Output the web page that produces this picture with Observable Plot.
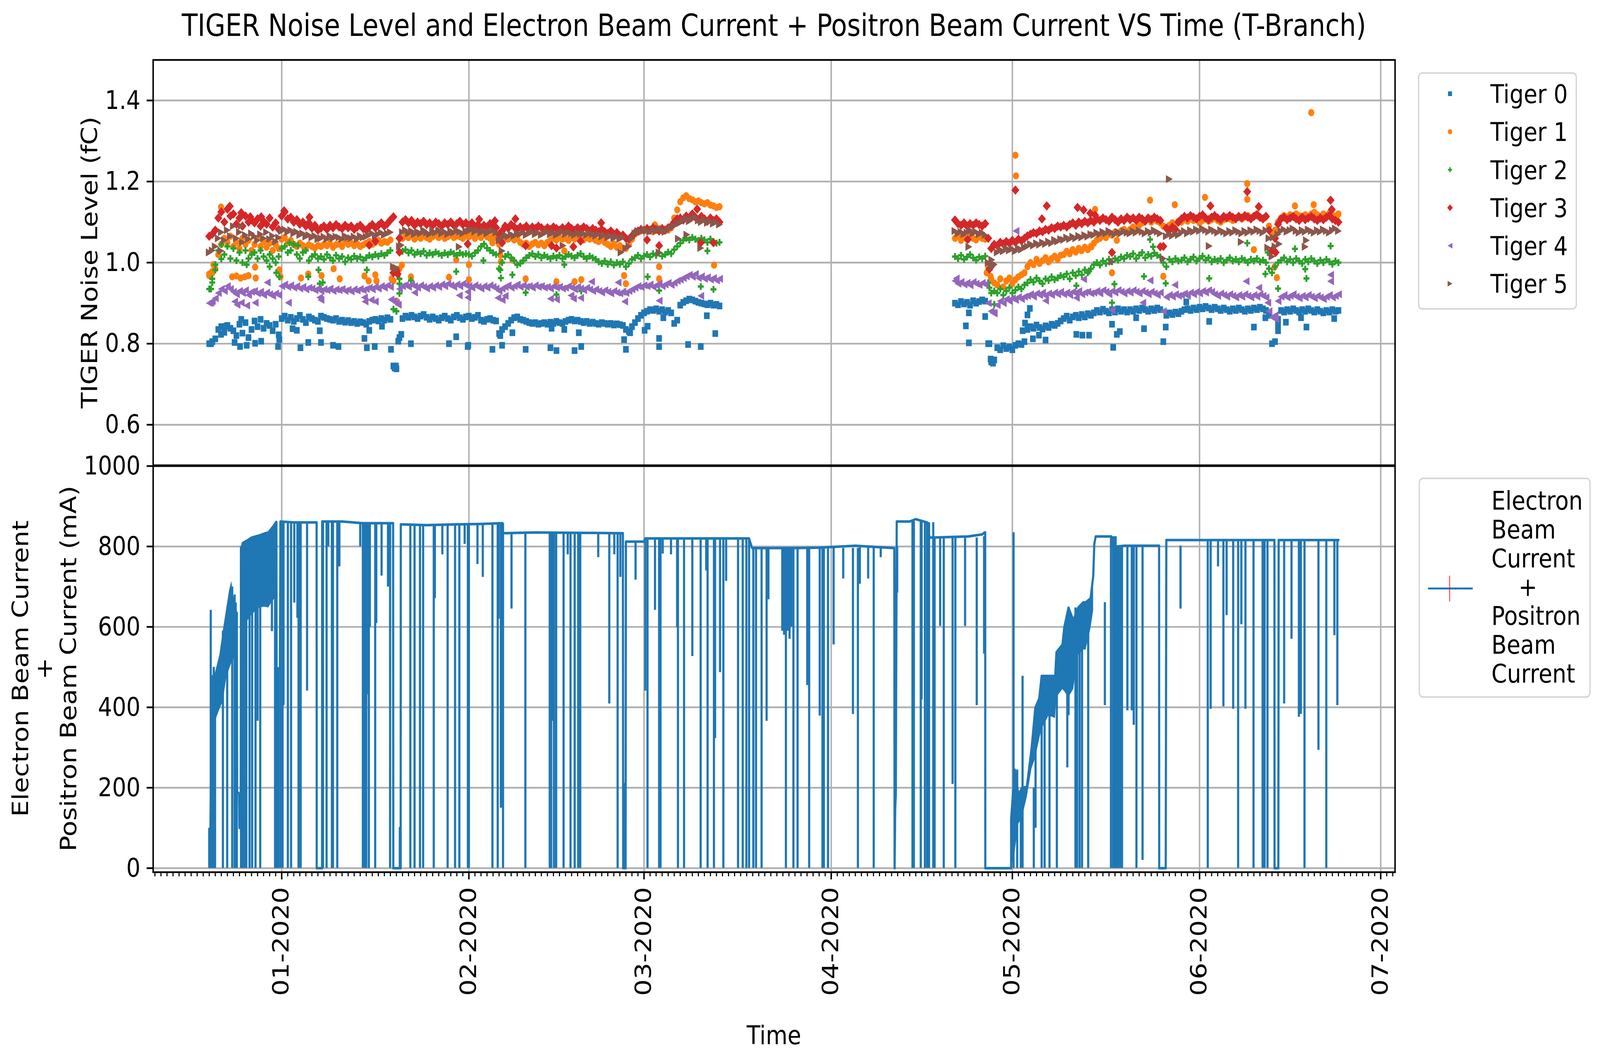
<!DOCTYPE html>
<html><head><meta charset="utf-8">
<script src="https://cdn.jsdelivr.net/npm/d3@7"></script>
<script src="https://cdn.jsdelivr.net/npm/@observablehq/plot@0.6"></script>
<style>
html,body{margin:0;padding:0;background:#fff;overflow:hidden;}
#outer{position:relative;overflow:hidden;width:4790px;height:2717px;background:#fff;}
#wrap{position:absolute;left:0;top:0;width:4790px;height:2717px;overflow:hidden;background:#fff;transform-origin:0 0;}
#wrap > svg{position:absolute;left:0;}
</style></head><body><div id="outer"><div id="wrap"></div></div>
<script>
// ---------- DATA (days since 2019-12-01) ----------
const titleText = "TIGER Noise Level and Electron Beam Current + Positron Beam Current VS Time (T-Branch)";
const seriesNames = ["Tiger 0","Tiger 1","Tiger 2","Tiger 3","Tiger 4","Tiger 5"];
const seriesColors = ["#1f77b4","#ff7f0e","#2ca02c","#d62728","#9467bd","#8c564b"];
const monthTickLabels = ["01-2020","02-2020","03-2020","04-2020","05-2020","06-2020","07-2020"];
const monthTickDays = [31,62,91,122,152,183,213];
const yTicksTop = [0.6,0.8,1.0,1.2,1.4];
const yTickLabelsTop = ["0.6","0.8","1.0","1.2","1.4"];
const yTicksBottom = [0,200,400,600,800,1000];
const yTickLabelsBottom = ["0","200","400","600","800","1000"];

const tLeft = [19,19.5,20,20.5,21,21.5,22,22.5,23,23.5,24,24.5,25,25.5,26,26.5,27,27.5,28,28.5,29,29.5,30,30.5,31,31.5,32,32.5,33,33.5,34,34.5,35,35.5,36,36.5,37,37.5,38,38.5,39,39.5,40,40.5,41,41.5,42,42.5,43,43.5,44,44.5,45,45.5,46,46.5,47,47.5,48,48.5,49,49.5,50,50.5,51,51.5,52,52.5,53,53.5,54,54.5,55,55.5,56,56.5,57,57.5,58,58.5,59,59.5,60,60.5,61,61.5,62,62.5,63,63.5,64,64.5,65,65.5,66,66.5,67,67.5,68,68.5,69,69.5,70,70.5,71,71.5,72,72.5,73,73.5,74,74.5,75,75.5,76,76.5,77,77.5,78,78.5,79,79.5,80,80.5,81,81.5,82,82.5,83,83.5,84,84.5,85,85.5,86,86.5,87,87.5,88,88.5,89,89.5,90,90.5,91,91.5,92,92.5,93,93.5,94,94.5,95,95.5,96,96.5,97,97.5,98,98.5,99,99.5,100,100.5,101,101.5,102,102.5,103,103.5];
const tRight = [142.5,143,143.5,144,144.5,145,145.5,146,146.5,147,147.5,148,148.5,149,149.5,150,150.5,151,151.5,152,152.5,153,153.5,154,154.5,155,155.5,156,156.5,157,157.5,158,158.5,159,159.5,160,160.5,161,161.5,162,162.5,163,163.5,164,164.5,165,165.5,166,166.5,167,167.5,168,168.5,169,169.5,170,170.5,171,171.5,172,172.5,173,173.5,174,174.5,175,175.5,176,176.5,177,177.5,178,178.5,179,179.5,180,180.5,181,181.5,182,182.5,183,183.5,184,184.5,185,185.5,186,186.5,187,187.5,188,188.5,189,189.5,190,190.5,191,191.5,192,192.5,193,193.5,194,194.5,195,195.5,196,196.5,197,197.5,198,198.5,199,199.5,200,200.5,201,201.5,202,202.5,203,203.5,204,204.5,205,205.5,206];

const tiger0Left = [0.800,0.805,0.812,0.835,0.842,0.828,0.845,0.838,0.832,0.820,0.848,0.826,0.852,0.815,0.835,0.856,0.842,0.860,0.838,0.850,0.845,0.832,0.848,0.822,0.862,0.868,0.858,0.865,0.855,0.862,0.870,0.860,0.852,0.866,0.862,0.858,0.855,0.868,0.865,0.862,0.860,0.858,0.862,0.855,0.858,0.853,0.857,0.852,0.855,0.850,0.854,0.852,0.848,0.855,0.858,0.860,0.856,0.862,0.858,0.864,0.860,0.745,0.738,0.815,0.862,0.868,0.865,0.870,0.866,0.862,0.868,0.872,0.865,0.860,0.866,0.862,0.858,0.864,0.868,0.862,0.858,0.866,0.870,0.864,0.860,0.866,0.868,0.862,0.865,0.870,0.858,0.855,0.860,0.862,0.858,0.856,0.825,0.835,0.842,0.850,0.858,0.864,0.866,0.860,0.858,0.855,0.852,0.850,0.852,0.848,0.850,0.852,0.848,0.853,0.850,0.855,0.852,0.850,0.855,0.858,0.860,0.856,0.858,0.855,0.852,0.855,0.850,0.853,0.850,0.848,0.852,0.850,0.848,0.850,0.846,0.849,0.847,0.845,0.835,0.830,0.842,0.852,0.862,0.870,0.876,0.880,0.884,0.882,0.886,0.880,0.884,0.878,0.882,0.876,0.850,0.858,0.895,0.902,0.906,0.910,0.908,0.905,0.902,0.900,0.898,0.896,0.900,0.895,0.897,0.893];
const tiger1Left = [0.968,0.975,0.985,1.020,1.045,1.060,1.050,1.065,1.040,1.050,1.035,1.060,1.045,1.055,1.030,1.045,1.060,1.040,1.052,1.038,1.048,1.030,1.045,1.035,1.058,1.062,1.050,1.055,1.045,1.040,1.048,1.042,1.038,1.044,1.040,1.036,1.042,1.040,1.045,1.042,1.048,1.038,1.044,1.046,1.040,1.050,1.045,1.048,1.042,1.046,1.040,1.044,1.048,1.052,1.045,1.050,1.055,1.048,1.052,1.050,1.056,0.955,0.905,0.985,1.060,1.065,1.062,1.068,1.058,1.064,1.060,1.066,1.062,1.058,1.064,1.068,1.062,1.066,1.060,1.064,1.068,1.062,1.066,1.064,1.060,1.066,1.064,1.068,1.060,1.066,1.062,1.070,1.064,1.060,1.066,1.062,1.045,1.055,1.060,1.058,1.062,1.056,1.060,1.050,1.045,1.048,1.040,1.046,1.050,1.044,1.048,1.042,1.050,1.055,1.060,1.056,1.062,1.058,1.060,1.055,1.062,1.058,1.064,1.060,1.056,1.062,1.058,1.060,1.055,1.052,1.056,1.050,1.045,1.040,1.046,1.038,1.042,1.036,1.035,1.045,1.058,1.070,1.075,1.078,1.080,1.078,1.082,1.076,1.080,1.084,1.078,1.082,1.080,1.086,1.110,1.130,1.150,1.160,1.165,1.158,1.155,1.150,1.152,1.148,1.145,1.148,1.142,1.140,1.136,1.138];
const tiger2Left = [0.935,0.960,0.995,1.030,1.045,1.020,1.040,1.010,1.035,1.005,1.025,1.000,1.030,1.010,1.020,1.025,1.010,1.030,1.015,1.005,1.020,1.010,1.000,1.015,1.035,1.040,1.025,1.030,1.045,1.020,1.010,1.025,1.030,1.005,1.015,1.020,1.010,1.015,1.008,1.020,1.012,1.005,1.018,1.010,1.015,1.002,1.012,1.008,1.016,1.010,1.014,1.006,1.012,1.018,1.014,1.020,1.016,1.022,1.018,1.024,1.030,0.885,0.880,0.960,1.028,1.032,1.024,1.030,1.020,1.026,1.022,1.028,1.018,1.024,1.020,1.026,1.022,1.018,1.024,1.020,1.026,1.022,1.018,1.024,1.020,1.022,1.020,1.016,1.024,1.030,1.040,1.046,1.036,1.030,1.024,1.020,0.985,1.000,1.015,1.020,1.012,1.005,0.995,0.998,1.005,1.012,1.018,1.022,1.015,1.020,1.012,1.018,1.014,1.010,1.016,1.012,1.018,1.010,1.015,1.020,1.016,1.012,1.018,1.022,1.015,1.010,1.016,1.012,1.008,1.002,0.998,1.004,0.996,1.002,0.994,1.000,0.996,1.002,0.990,0.998,1.008,1.012,1.018,1.010,1.016,1.020,1.014,1.022,1.018,1.024,1.016,1.020,1.026,1.022,1.032,1.040,1.048,1.055,1.060,1.056,1.062,1.058,1.054,1.060,1.056,1.050,1.058,1.052,1.048,1.050];
const tiger3Left = [1.065,1.070,1.080,1.110,1.125,1.100,1.132,1.115,1.120,1.095,1.110,1.090,1.115,1.100,1.105,1.098,1.108,1.090,1.102,1.095,1.110,1.088,1.098,1.082,1.115,1.125,1.108,1.112,1.100,1.106,1.095,1.100,1.090,1.098,1.085,1.092,1.080,1.085,1.090,1.082,1.092,1.086,1.094,1.088,1.084,1.092,1.086,1.090,1.082,1.088,1.092,1.084,1.080,1.088,1.094,1.086,1.092,1.098,1.090,1.096,1.105,0.975,0.980,1.060,1.100,1.106,1.098,1.104,1.092,1.100,1.096,1.102,1.094,1.098,1.092,1.100,1.096,1.090,1.098,1.094,1.100,1.092,1.096,1.102,1.094,1.098,1.092,1.098,1.088,1.094,1.086,1.092,1.088,1.096,1.090,1.086,1.070,1.078,1.090,1.085,1.094,1.088,1.082,1.088,1.084,1.090,1.082,1.088,1.084,1.090,1.086,1.080,1.086,1.082,1.088,1.084,1.080,1.086,1.082,1.090,1.084,1.080,1.086,1.082,1.088,1.084,1.078,1.084,1.080,1.076,1.082,1.076,1.072,1.078,1.070,1.074,1.066,1.068,1.060,1.058,1.066,1.074,1.078,1.082,1.080,1.084,1.080,1.086,1.082,1.078,1.084,1.080,1.086,1.090,1.100,1.108,1.110,1.105,1.115,1.108,1.120,1.112,1.106,1.114,1.108,1.102,1.110,1.104,1.108,1.100];
const tiger4Left = [0.900,0.905,0.912,0.925,0.935,0.930,0.942,0.935,0.928,0.922,0.930,0.925,0.932,0.920,0.928,0.930,0.924,0.928,0.920,0.926,0.922,0.918,0.924,0.920,0.942,0.946,0.940,0.944,0.938,0.942,0.936,0.940,0.934,0.938,0.936,0.932,0.935,0.930,0.934,0.932,0.936,0.930,0.934,0.932,0.935,0.930,0.933,0.929,0.934,0.931,0.935,0.932,0.935,0.938,0.934,0.940,0.936,0.942,0.938,0.944,0.940,0.905,0.900,0.935,0.942,0.945,0.940,0.946,0.942,0.938,0.944,0.940,0.936,0.942,0.938,0.944,0.940,0.946,0.942,0.948,0.944,0.940,0.946,0.942,0.948,0.944,0.942,0.938,0.944,0.940,0.936,0.942,0.938,0.944,0.940,0.936,0.930,0.936,0.940,0.944,0.938,0.942,0.946,0.940,0.944,0.940,0.942,0.938,0.944,0.940,0.942,0.938,0.940,0.936,0.942,0.938,0.940,0.936,0.938,0.942,0.938,0.934,0.940,0.936,0.932,0.938,0.934,0.930,0.934,0.930,0.926,0.932,0.928,0.924,0.930,0.926,0.924,0.928,0.925,0.930,0.934,0.938,0.942,0.940,0.944,0.942,0.946,0.940,0.944,0.948,0.942,0.946,0.950,0.945,0.950,0.955,0.958,0.962,0.966,0.970,0.965,0.972,0.962,0.966,0.960,0.964,0.958,0.962,0.956,0.960];
const tiger5Left = [1.025,1.030,1.040,1.060,1.075,1.055,1.080,1.065,1.090,1.060,1.075,1.050,1.068,1.058,1.072,1.065,1.055,1.070,1.060,1.075,1.058,1.066,1.052,1.062,1.078,1.082,1.075,1.080,1.072,1.076,1.068,1.072,1.064,1.068,1.062,1.066,1.058,1.060,1.064,1.058,1.066,1.060,1.064,1.062,1.058,1.066,1.062,1.060,1.064,1.058,1.066,1.062,1.064,1.068,1.072,1.066,1.070,1.074,1.068,1.072,1.075,0.990,0.985,1.040,1.075,1.080,1.072,1.078,1.070,1.076,1.072,1.080,1.074,1.070,1.078,1.074,1.080,1.072,1.076,1.070,1.078,1.074,1.080,1.076,1.072,1.078,1.078,1.082,1.076,1.080,1.074,1.078,1.072,1.076,1.080,1.074,1.055,1.062,1.068,1.064,1.070,1.066,1.072,1.070,1.074,1.068,1.072,1.076,1.070,1.074,1.068,1.072,1.076,1.070,1.074,1.068,1.072,1.076,1.070,1.074,1.072,1.068,1.074,1.070,1.072,1.068,1.074,1.070,1.066,1.070,1.064,1.068,1.062,1.066,1.060,1.064,1.058,1.062,1.035,1.040,1.060,1.072,1.078,1.076,1.082,1.080,1.076,1.082,1.078,1.084,1.080,1.076,1.082,1.086,1.090,1.096,1.098,1.104,1.110,1.102,1.108,1.112,1.104,1.100,1.106,1.098,1.102,1.096,1.100,1.094];

const tiger0Right = [0.900,0.896,0.904,0.898,0.902,0.895,0.906,0.900,0.904,0.908,0.905,0.800,0.755,0.760,0.790,0.785,0.795,0.788,0.792,0.785,0.796,0.800,0.798,0.805,0.835,0.842,0.838,0.846,0.840,0.836,0.844,0.840,0.848,0.845,0.850,0.856,0.862,0.868,0.858,0.866,0.870,0.864,0.872,0.866,0.874,0.870,0.876,0.882,0.878,0.885,0.880,0.876,0.884,0.878,0.886,0.880,0.884,0.878,0.884,0.880,0.886,0.882,0.888,0.884,0.880,0.886,0.882,0.888,0.884,0.805,0.870,0.876,0.872,0.878,0.874,0.880,0.884,0.886,0.882,0.888,0.884,0.890,0.886,0.892,0.888,0.884,0.890,0.886,0.882,0.888,0.884,0.880,0.886,0.882,0.888,0.884,0.880,0.886,0.882,0.888,0.884,0.890,0.886,0.882,0.870,0.800,0.805,0.860,0.882,0.878,0.884,0.880,0.886,0.882,0.878,0.884,0.880,0.886,0.882,0.878,0.884,0.880,0.876,0.882,0.878,0.884,0.880,0.882];
const tiger1Right = [1.060,1.065,1.055,1.062,1.058,1.066,1.060,1.056,1.064,1.060,1.058,0.990,0.960,0.950,0.945,0.960,0.940,0.955,0.962,0.948,0.958,0.965,0.970,0.975,0.990,1.000,0.995,1.008,0.998,1.005,1.012,1.002,1.010,1.016,1.008,1.018,1.020,1.028,1.022,1.032,1.026,1.035,1.030,1.038,1.032,1.040,1.048,1.056,1.060,1.066,1.062,1.070,1.068,1.075,1.072,1.078,1.082,1.076,1.082,1.088,1.084,1.092,1.098,1.104,1.110,1.100,1.106,1.102,1.098,1.090,1.086,1.092,1.098,1.095,1.102,1.100,1.106,1.102,1.108,1.104,1.110,1.098,1.104,1.108,1.102,1.106,1.110,1.104,1.100,1.106,1.112,1.108,1.104,1.110,1.114,1.108,1.112,1.116,1.110,1.114,1.120,1.112,1.108,1.114,1.090,1.070,1.080,1.100,1.110,1.116,1.112,1.118,1.114,1.120,1.116,1.112,1.118,1.114,1.120,1.124,1.118,1.114,1.120,1.116,1.122,1.118,1.114,1.120];
const tiger2Right = [1.015,1.010,1.018,1.008,1.014,1.020,1.012,1.006,1.014,1.010,1.016,0.950,0.925,0.930,0.925,0.935,0.920,0.930,0.938,0.925,0.932,0.940,0.935,0.945,0.950,0.958,0.952,0.962,0.955,0.948,0.960,0.956,0.965,0.958,0.962,0.968,0.965,0.972,0.960,0.975,0.968,0.978,0.970,0.982,0.975,0.985,0.995,1.000,0.994,1.004,0.998,1.008,1.002,1.010,1.006,1.014,1.010,1.018,1.015,1.022,1.010,1.018,1.025,1.012,1.020,1.016,1.024,1.018,1.014,1.000,0.990,1.008,1.002,1.010,1.004,1.006,1.012,1.002,1.008,1.014,1.004,1.010,1.016,1.006,1.012,1.002,1.008,1.004,1.010,1.000,1.006,1.012,1.004,1.008,1.002,1.010,1.006,1.000,1.008,1.004,1.010,1.002,1.006,1.000,0.985,0.975,0.990,1.000,1.006,1.012,1.002,1.008,1.000,1.010,1.004,0.998,1.008,1.002,1.010,1.004,0.998,1.006,1.000,1.008,1.002,0.996,1.004,1.000];
const tiger3Right = [1.105,1.096,1.092,1.098,1.090,1.096,1.092,1.098,1.094,1.090,1.096,1.060,1.035,1.045,1.042,1.050,1.046,1.052,1.048,1.055,1.050,1.058,1.054,1.060,1.066,1.070,1.074,1.072,1.078,1.076,1.082,1.080,1.086,1.084,1.090,1.088,1.092,1.088,1.094,1.098,1.092,1.100,1.096,1.102,1.098,1.104,1.100,1.108,1.104,1.110,1.106,1.102,1.112,1.106,1.100,1.108,1.104,1.112,1.106,1.110,1.104,1.112,1.108,1.102,1.110,1.106,1.112,1.108,1.104,1.040,1.085,1.080,1.088,1.082,1.100,1.108,1.114,1.110,1.116,1.112,1.108,1.114,1.118,1.110,1.106,1.112,1.116,1.110,1.106,1.114,1.110,1.116,1.112,1.108,1.114,1.110,1.116,1.112,1.108,1.114,1.118,1.112,1.108,1.114,1.080,1.030,1.060,1.095,1.108,1.112,1.106,1.110,1.114,1.108,1.104,1.112,1.106,1.110,1.114,1.108,1.104,1.110,1.106,1.112,1.116,1.108,1.104,1.100];
const tiger4Right = [0.955,0.948,0.952,0.946,0.950,0.944,0.952,0.948,0.945,0.950,0.946,0.900,0.880,0.875,0.895,0.905,0.900,0.910,0.905,0.912,0.908,0.915,0.910,0.916,0.918,0.922,0.916,0.924,0.920,0.926,0.918,0.924,0.920,0.926,0.922,0.928,0.922,0.926,0.920,0.928,0.924,0.930,0.922,0.926,0.928,0.924,0.926,0.930,0.924,0.932,0.928,0.922,0.930,0.926,0.932,0.928,0.924,0.930,0.926,0.932,0.928,0.924,0.930,0.926,0.922,0.928,0.924,0.920,0.926,0.880,0.915,0.920,0.916,0.922,0.918,0.920,0.924,0.918,0.926,0.922,0.928,0.924,0.930,0.926,0.932,0.928,0.922,0.918,0.924,0.920,0.916,0.922,0.918,0.914,0.920,0.916,0.922,0.918,0.914,0.920,0.916,0.922,0.918,0.914,0.880,0.865,0.870,0.905,0.916,0.920,0.914,0.918,0.922,0.916,0.912,0.918,0.914,0.920,0.916,0.912,0.918,0.914,0.910,0.916,0.920,0.914,0.918,0.922];
const tiger5Right = [1.078,1.072,1.076,1.070,1.074,1.080,1.072,1.076,1.070,1.074,1.068,1.000,0.988,0.995,1.025,1.032,1.028,1.036,1.030,1.034,1.028,1.036,1.032,1.038,1.040,1.046,1.042,1.048,1.044,1.050,1.046,1.052,1.048,1.056,1.052,1.058,1.056,1.062,1.058,1.064,1.060,1.066,1.062,1.068,1.064,1.070,1.068,1.074,1.070,1.076,1.072,1.078,1.074,1.070,1.076,1.072,1.078,1.074,1.072,1.078,1.074,1.080,1.076,1.072,1.078,1.074,1.080,1.076,1.072,1.010,1.065,1.070,1.066,1.072,1.068,1.074,1.078,1.072,1.080,1.076,1.082,1.078,1.084,1.080,1.076,1.082,1.078,1.074,1.080,1.076,1.072,1.078,1.074,1.080,1.076,1.072,1.078,1.074,1.080,1.076,1.082,1.078,1.074,1.080,1.060,1.015,1.040,1.070,1.078,1.082,1.076,1.080,1.084,1.078,1.074,1.080,1.076,1.082,1.078,1.074,1.080,1.076,1.082,1.078,1.074,1.080,1.084,1.078];

// scattered readings away from the main bands
const tiger0OutDay = [19.3,20.95,21.8,23.2,24.1,24.3,25.2,26.6,27.6,30.4,30.6,32.8,33.5,34.1,35.4,37.3,37.5,39.5,40.4,44.7,45.1,45.5,46.4,47.6,49.1,49.7,49.9,50.3,50.8,52.4,58.7,59.9,61.8,61.9,65.9,67.2,67.5,69.2,71.4,75.5,75.7,76.5,77.8,79.5,80.2,80.6,87.7,88.0,88.7,91.1,91.6,93.5,93.5,94.2,98.3,100.4,101.4,102.8,144.3,144.8,144.8,147.5,148.2,148.4,148.8,153.7,154.1,154.5,154.9,155.4,156.4,157.5,162.6,163.6,164.7,168.5,168.7,169.3,169.8,172.5,173.8,177.4,180.8,184.6,192.0,193.9,196.0,196.0,197.3,199.8,200.7,205.3];
const tiger0OutVal = [0.800,0.823,0.843,0.803,0.793,0.860,0.796,0.801,0.806,0.793,0.810,0.837,0.833,0.790,0.803,0.832,0.803,0.796,0.793,0.813,0.790,0.833,0.793,0.843,0.786,0.740,0.745,0.806,0.823,0.800,0.800,0.817,0.793,0.796,0.786,0.820,0.796,0.827,0.786,0.790,0.838,0.783,0.835,0.783,0.827,0.793,0.810,0.786,0.827,0.833,0.843,0.813,0.793,0.864,0.798,0.793,0.869,0.825,0.844,0.876,0.802,0.867,0.800,0.762,0.752,0.832,0.851,0.871,0.887,0.812,0.821,0.809,0.823,0.821,0.821,0.848,0.791,0.823,0.830,0.864,0.837,0.841,0.903,0.855,0.841,0.864,0.832,0.846,0.853,0.864,0.841,0.862];
const tiger1OutDay = [19.0,19.5,19.7,20.95,22.8,23.5,24.2,24.9,25.5,26.6,26.7,30.6,30.8,34.2,35.4,37.6,39.6,40.6,44.7,45.4,46.5,46.7,49.2,50.9,52.4,58.7,59.9,62.0,62.0,65.9,67.2,67.3,69.2,71.4,76.5,77.8,79.5,80.6,87.7,88.0,92.8,93.5,93.5,102.6,143.9,144.6,147.75,148.4,152.5,152.6,163.4,165.1,165.7,168.5,169.3,174.8,177.0,178.9,183.9,190.9,190.9,192.0,195.4,195.8,198.8,201.5,201.9];
const tiger1OutVal = [0.972,0.978,0.995,1.137,0.965,0.967,0.962,0.965,0.968,0.989,0.962,0.982,0.965,0.962,0.972,0.968,0.985,0.960,0.967,0.955,0.970,0.955,0.960,0.994,0.965,0.964,1.007,0.995,0.958,1.049,1.019,1.002,1.007,0.960,0.953,1.029,0.953,0.958,0.968,0.948,1.093,0.990,0.960,0.994,1.064,1.057,0.975,0.966,1.265,1.214,1.030,1.039,1.131,0.975,1.055,1.154,0.966,1.143,1.161,1.195,1.156,1.032,0.989,0.963,1.140,1.370,1.143];
const tiger2OutDay = [19.3,19.5,20.0,21.0,25.2,29.0,30.1,30.6,32.3,33.7,35.4,37.1,37.3,37.5,37.8,45.1,50.5,50.5,52.4,59.9,64.4,67.2,67.3,69.2,71.4,76.5,77.8,80.6,87.8,91.6,93.5,100.4,101.5,102.5,148.2,149.0,162.6,164.7,168.5,168.9,173.8,174.8,175.3,177.4,184.6,190.9,193.9,194.3,196.0,198.8,200.5,200.7,204.7];
const tiger2OutVal = [0.935,0.951,0.982,1.009,0.995,0.990,0.975,0.965,1.049,1.042,0.965,0.982,0.948,0.935,0.951,0.982,0.948,0.924,0.956,0.978,1.005,0.982,0.962,0.970,0.926,0.921,0.995,0.930,0.928,0.965,0.931,0.941,1.029,0.934,0.938,0.897,0.943,0.979,0.901,0.947,0.966,1.057,1.039,0.949,0.961,1.048,0.972,1.025,0.936,1.034,0.984,0.961,1.041];
const tiger3OutDay = [22.4,24.3,25.8,27.6,31.4,35.6,45.5,46.5,49.5,49.8,50.2,50.5,61.8,63.7,66.3,67.5,69.7,71.4,75.7,76.5,79.3,80.5,83.9,91.5,93.5,99.8,100.4,102.5,144.6,148.2,148.6,152.5,156.9,157.7,162.8,163.8,164.9,165.7,168.5,176.5,184.8,190.9,192.8,195.6,204.7,204.9];
const tiger3OutVal = [1.139,1.123,1.113,1.113,1.128,1.112,1.043,1.053,1.113,0.982,0.972,1.026,1.046,1.107,1.103,1.049,1.108,1.042,1.042,1.036,1.039,1.053,1.098,1.056,1.042,1.132,1.049,1.049,1.057,0.984,0.993,1.179,1.108,1.140,1.136,1.130,1.122,1.117,1.025,1.039,1.140,1.175,1.138,1.025,1.154,1.131];
const tiger4OutDay = [19.3,23.2,23.6,24.3,25.2,26.6,28.6,32.1,37.3,37.5,44.7,44.8,45.8,46.5,49.1,50.3,53.0,60.4,61.8,61.8,66.8,67.5,68.0,75.5,76.5,78.9,79.3,80.5,82.3,86.7,87.8,93.5,100.4,142.7,148.8,152.6,157.5,162.6,163.8,168.5,173.6,174.8,178.9,190.7,192.8,194.3,195.6,204.7,204.7];
const tiger4OutVal = [0.901,0.904,0.896,0.901,0.894,0.901,0.951,0.901,0.914,0.908,0.914,0.904,0.908,0.904,0.909,0.896,0.926,0.919,0.928,0.914,0.913,0.908,0.918,0.911,0.909,0.919,0.911,0.913,0.953,0.951,0.904,0.906,0.918,0.961,0.876,1.078,0.906,0.913,0.959,0.883,0.901,0.956,0.945,0.954,0.938,0.901,0.860,0.970,0.954];
const tiger5OutDay = [20.95,24.3,50.0,50.8,60.4,67.5,77.6,87.2,93.5,96.7,98.1,100.4,144.8,148.6,148.8,168.5,178.0,184.6,189.9,194.3,195.2,196.2,200.5,200.7];
const tiger5OutVal = [1.029,1.090,0.987,1.043,1.039,1.029,1.042,1.025,1.025,1.059,1.069,1.036,1.039,1.007,0.998,1.002,1.206,1.041,1.051,1.037,1.062,1.046,1.039,1.055];

// Beam current (mA): plateau path, dense-oscillation envelopes, and drops
const levelDay = [23.56,23.62,23.95,24.0,24.2,24.26,24.6,25.3,26.0,26.7,27.4,28.1,28.8,29.5,30.1,30.15,30.7,30.8,33.0,36.78,36.8,37.68,37.7,41.0,44.4,49.45,49.48,50.55,50.56,50.68,50.7,50.72,55.0,60.0,64.0,67.55,67.6,72.9,80.0,87.5,87.55,87.7,87.75,87.95,88.0,91.0,91.2,100.0,108.4,108.9,115.0,120.0,126.0,132.45,132.5,132.6,132.7,132.85,135.0,136.0,137.8,138.3,144.7,147.0,147.4,147.5,147.52,151.8,151.8,152.4,153.0,153.6,154.4,155.2,155.8,156.45,156.85,158.0,159.1,159.3,160.3,160.6,161.3,162.1,162.9,163.75,164.15,164.95,165.4,165.57,165.8,168.4,168.5,170.6,176.3,176.32,177.4,177.5,195.4,195.42,196.05,196.1,206.0];
const levelMA = [635,190,185,100,100,793,809,815,822,825,828,832,835,848,861,497,497,862,860,860,0,0,862,862,858,858,0,0,100,100,0,855,853,855,856,858,833,835,834,833,0,209,0,0,812,812,820,820,820,796,796,797,802,796,0,150,182,862,862,868,860,822,825,830,835,835,0,0,123,245,182,200,202,300,399,422,478,478,478,537,556,599,648,616,648,661,661,671,727,806,825,825,799,802,802,0,0,816,816,0,0,816,816];
const bandDay = [19.05,19.3,19.7,20.2,20.7,21.26,21.8,22.3,22.67,23.03,23.56,24.26,24.6,25.3,26.0,26.7,27.4,28.1,28.8,29.5,30.1,151.8,152.4,153.0,153.6,154.4,155.2,155.8,156.45,156.85,158.0,159.1,159.3,160.3,160.6,161.3,162.1,162.9,163.75,164.15,164.95,165.4];
const bandLow = [0,320,350,375,395,415,470,495,510,520,520,600,605,615,630,640,648,650,648,665,675,0,40,110,125,176,248,274,320,346,379,373,425,445,440,425,445,530,543,543,596,640];
const bandHigh = [100,480,470,500,530,590,642,690,714,675,635,793,809,815,822,825,828,832,835,848,861,123,245,182,200,202,300,399,422,478,478,478,537,556,599,648,616,648,661,661,671,727];
const bandPart = [1,1,1,1,1,1,1,1,1,1,1,2,2,2,2,2,2,2,2,2,2,3,3,3,3,3,3,3,3,3,3,3,3,3,3,3,3,3,3,3,3,3];
const dipDay = [19.0,19.25,19.5,19.75,19.96,21.26,21.97,22.8,23.2,23.38,23.56,24.26,24.54,24.79,25.14,25.67,26.1,26.66,27.0,27.44,29.38,29.9,30.12,30.43,30.79,31.14,31.3,32.02,32.55,33.08,33.6,33.79,34.14,35.2,37.84,38.43,38.72,39.31,39.49,40.2,40.55,44.0,44.44,44.72,45.0,45.25,45.43,45.6,46.48,46.66,47.54,48.6,48.95,52.3,53.0,53.9,54.42,56.18,56.36,57.6,58.48,59.71,60.42,61.3,61.83,62.0,63.42,64.3,65.9,66.77,66.94,67.3,67.65,69.06,71.35,75.39,75.62,75.85,76.08,76.45,77.68,78.37,78.83,79.52,80.1,80.44,83.42,85.25,86.08,86.63,87.08,89.6,91.21,91.58,92.82,93.5,93.73,94.1,95.47,96.48,96.62,97.63,99.0,100.38,101.3,101.53,102.58,102.77,103.59,104.14,104.6,106.57,107.35,107.95,108.4,109.1,109.55,110.47,111.3,111.6,113.9,114.2,114.5,114.8,115.1,115.4,115.74,116.43,118.03,118.35,120.1,120.55,120.78,121.47,122.4,123.99,125.6,126.42,126.74,128.12,129.04,130.2,132.93,135.46,135.69,136.83,136.97,137.52,137.88,138.2,138.9,139.12,140.04,140.64,142.1,142.56,144.17,146.1,147.32,152.2,152.8,153.4,153.69,155.55,155.84,156.85,157.34,158.15,159.37,161.1,161.31,162.45,162.73,163.14,163.54,164.56,167.32,168.33,168.7,168.9,169.1,169.3,169.5,169.83,170.16,171.05,171.78,172.1,172.55,173.56,179.85,184.36,184.84,186.06,186.95,187.48,188.57,189.39,189.92,190.6,191.94,193.44,193.77,194.25,197.01,198.23,199.45,199.77,200.38,202.69,203.99,205.33,205.82];
const dipLow = [0,0,0,0,0,0,0,0,0,0,0,0,0,0,0,0,0,0,366,0,589,0,0,0,0,0,405,0,0,660,622,0,0,441,0,0,800,0,0,0,750,800,0,0,0,432,0,600,0,609,727,700,0,0,0,0,0,0,671,780,0,0,0,806,0,0,756,724,0,0,620,150,0,645,0,0,0,366,0,0,0,780,0,0,0,0,773,409,780,0,724,717,441,0,642,0,0,782,780,599,0,0,527,0,740,0,0,323,487,0,714,0,0,0,0,0,0,0,366,668,590,580,0,590,570,600,0,0,455,0,379,0,0,0,556,720,383,0,707,720,0,773,685,0,0,0,419,0,0,0,0,0,602,0,209,0,602,405,533,0,0,0,0,0,100,0,0,0,0,250,380,0,0,0,0,0,405,0,0,0,0,0,0,0,0,392,392,356,0,20,645,0,396,750,402,629,396,0,606,396,0,0,0,0,409,570,376,383,0,294,0,579,405];
const dipHigh = [100,642,480,500,460,590,640,700,680,660,635,800,810,810,815,819,822,825,826,828,840,855,861,497,862,862,862,862,862,862,862,862,862,862,862,862,862,862,862,862,862,860,858,858,858,858,858,858,858,858,858,858,858,855,855,855,855,855,855,855,855,855,855,855,855,855,856,856,858,858,858,858,858,833,833,835,835,835,835,835,835,835,835,835,835,835,835,835,835,835,835,812,820,820,820,820,820,820,820,820,820,820,820,820,820,820,820,820,820,820,820,820,820,820,820,796,796,796,796,796,796,796,796,796,796,796,796,796,796,796,796,796,796,796,796,796,796,796,800,800,800,800,800,862,862,862,862,862,862,860,860,822,822,822,822,822,822,822,825,835,245,182,478,200,350,399,478,478,478,537,648,648,616,640,648,661,661,825,825,825,825,800,800,800,800,800,802,802,802,802,802,816,816,816,816,816,816,816,816,816,816,816,816,816,816,816,816,816,816,816,816,816,816,816];

// ---------- BUILD ----------
const base = Date.UTC(2019, 11, 1);
const toDate = d => new Date(base + d * 864e5);
const xDomain = [toDate(9.71), toDate(215.38)];
const monthTicks = monthTickDays.map(toDate);
const dayTicks = d3.utcDay.range(xDomain[0], xDomain[1]);
const monthLabel = d => { const i = monthTicks.findIndex(m => +m === +d); return i >= 0 ? monthTickLabels[i] : ""; };

const leftVals = [tiger0Left, tiger1Left, tiger2Left, tiger3Left, tiger4Left, tiger5Left];
const rightVals = [tiger0Right, tiger1Right, tiger2Right, tiger3Right, tiger4Right, tiger5Right];
const outDays = [tiger0OutDay, tiger1OutDay, tiger2OutDay, tiger3OutDay, tiger4OutDay, tiger5OutDay];
const outVals = [tiger0OutVal, tiger1OutVal, tiger2OutVal, tiger3OutVal, tiger4OutVal, tiger5OutVal];
function seriesRows(k) {
  const rows = [];
  tLeft.forEach((t, i) => { if (leftVals[k][i] != null) rows.push({date: toDate(t), v: leftVals[k][i]}); });
  tRight.forEach((t, i) => { if (rightVals[k][i] != null) rows.push({date: toDate(t), v: rightVals[k][i]}); });
  outDays[k].forEach((t, i) => { if (outVals[k][i] != null) rows.push({date: toDate(t), v: outVals[k][i]}); });
  return rows;
}

// matplotlib-like markers: s, o, P, D, <, >
const R = s => Math.sqrt(s / Math.PI);
const symSquare = {draw(c, size){ const s = R(size); c.rect(-s, -s, 2*s, 2*s); }};
const symCircle = {draw(c, size){ const s = R(size)*1.08; c.moveTo(s, 0); c.arc(0, 0, s, 0, 2*Math.PI); }};
const symPlus = {draw(c, size){ const s = R(size)*1.04, w = s/3;
  c.moveTo(-w,-s); c.lineTo(w,-s); c.lineTo(w,-w); c.lineTo(s,-w); c.lineTo(s,w); c.lineTo(w,w);
  c.lineTo(w,s); c.lineTo(-w,s); c.lineTo(-w,w); c.lineTo(-s,w); c.lineTo(-s,-w); c.lineTo(-w,-w); c.closePath(); }};
const symDiamond = {draw(c, size){ const a = R(size)*1.41; c.moveTo(0,-a); c.lineTo(a,0); c.lineTo(0,a); c.lineTo(-a,0); c.closePath(); }};
const symLeft = {draw(c, size){ const s = R(size)*1.2; c.moveTo(-s,0); c.lineTo(s,-s); c.lineTo(s,s); c.closePath(); }};
const symRight = {draw(c, size){ const s = R(size)*1.2; c.moveTo(s,0); c.lineTo(-s,-s); c.lineTo(-s,s); c.closePath(); }};
const symbols = [symSquare, symCircle, symPlus, symDiamond, symLeft, symRight];

const FONT = "DejaVu Sans";
const gridOpt = {stroke: "#b0b0b0", strokeOpacity: 1, strokeWidth: 4.4};
const plotStyle = {fontFamily: FONT, fontSize: "66.7px", background: "none", overflow: "visible", maxWidth: "none", color: "black"};

const topPlot = Plot.plot({
  width: 4790, height: 1191,
  marginLeft: 458, marginRight: 614, marginTop: 153, marginBottom: 0,
  style: plotStyle,
  x: {type: "utc", domain: xDomain, axis: null},
  y: {domain: [0.5, 1.5], axis: null},
  marks: [
    Plot.gridX(monthTicks, gridOpt),
    Plot.gridY(yTicksTop, gridOpt),
    ...seriesNames.map((name, k) => Plot.dot(seriesRows(k), {x: "date", y: "v", symbol: symbols[k], r: 8.5, fill: seriesColors[k]})),
    Plot.frame({stroke: "black", strokeWidth: 4.4}),
    Plot.axisY(yTicksTop, {tickSize: 19, tickPadding: 19, strokeWidth: 4.4, label: null,
      tickFormat: d => yTickLabelsTop[yTicksTop.indexOf(d)]})
  ]
});

const bandRows = bandDay.map((d, i) => ({date: toDate(d), low: bandLow[i], high: bandHigh[i], part: bandPart[i]}));
const dipRows = dipDay.map((d, i) => ({date: toDate(d), low: dipLow[i], high: dipHigh[i]}));
const levelRows = levelDay.map((d, i) => ({date: toDate(d), v: levelMA[i]}));

const bottomPlot = Plot.plot({
  width: 4790, height: 1526,
  marginLeft: 458, marginRight: 614, marginTop: 2, marginBottom: 484,
  style: plotStyle,
  x: {type: "utc", domain: xDomain, axis: null},
  y: {domain: [-10, 1000], axis: null},
  marks: [
    Plot.gridX(monthTicks, gridOpt),
    Plot.gridY(yTicksBottom, gridOpt),
    Plot.areaY(bandRows, {x: "date", y1: "low", y2: "high", z: "part", fill: "#1f77b4"}),
    Plot.ruleX(dipRows, {x: "date", y1: "low", y2: "high", stroke: "#1f77b4", strokeWidth: 6.5}),
    Plot.line(levelRows, {x: "date", y: "v", stroke: "#1f77b4", strokeWidth: 6.5}),
    Plot.frame({stroke: "black", strokeWidth: 4.4}),
    Plot.axisY(yTicksBottom, {tickSize: 19, tickPadding: 19, strokeWidth: 4.4, label: null,
      tickFormat: d => yTickLabelsBottom[yTicksBottom.indexOf(d)]}),
    Plot.axisX(monthTicks, {tickSize: 19, tickPadding: 19, tickRotate: -90, strokeWidth: 4.4, label: null, tickFormat: monthLabel}),
    Plot.axisX(dayTicks, {tickSize: 11, strokeWidth: 3.3, label: null, tickFormat: () => ""})
  ]
});

const outer = document.getElementById("outer");
const wrap = document.getElementById("wrap");
topPlot.style.top = "0px";
bottomPlot.style.top = "1191px";
wrap.appendChild(topPlot);
wrap.appendChild(bottomPlot);

// ---------- texts & legends ----------
const ov = d3.create("svg").attr("width", 4790).attr("height", 2717)
  .style("top", "0px").style("left", "0px")
  .attr("font-family", FONT).attr("fill", "black");
ov.append("text").attr("x", 2317).attr("y", 92).attr("text-anchor", "middle").attr("font-size", 77.8).text(titleText);
ov.append("text").attr("transform", "translate(291,672) rotate(-90)").attr("text-anchor", "middle").attr("font-size", 66.7).text("TIGER Noise Level (fC)");
const yLab2 = ["Electron Beam Current", "+", "Positron Beam Current (mA)"];
yLab2.forEach((s, i) => ov.append("text").attr("transform", `translate(${84 + 72 * i},1712) rotate(-90)`)
  .attr("text-anchor", "middle").attr("font-size", 66.7).text(s));
ov.append("text").attr("x", 2317).attr("y", 2674).attr("text-anchor", "middle").attr("font-size", 66.7).text("Time");

// legend 1
ov.append("rect").attr("x", 4247).attr("y", 187).attr("width", 472).attr("height", 604).attr("rx", 11)
  .attr("fill", "white").attr("fill-opacity", 0.8).attr("stroke", "#d6d6d6").attr("stroke-width", 4);
seriesNames.forEach((name, k) => {
  const cy = 240 + 97.3 * k;
  const p = d3.path(); symbols[k].draw(p, Math.PI * 36);
  ov.append("path").attr("d", p.toString()).attr("transform", `translate(4341,${cy})`).attr("fill", seriesColors[k]);
  ov.append("text").attr("x", 4462).attr("y", cy + 24).attr("font-size", 66.7).text(name);
});
// legend 2
ov.append("rect").attr("x", 4249).attr("y", 1225).attr("width", 511).attr("height", 560).attr("rx", 11)
  .attr("fill", "white").attr("fill-opacity", 0.8).attr("stroke", "#d6d6d6").attr("stroke-width", 4);
ov.append("line").attr("x1", 4275).attr("x2", 4409).attr("y1", 1507).attr("y2", 1507).attr("stroke", "#1f77b4").attr("stroke-width", 5);
ov.append("line").attr("x1", 4340).attr("x2", 4340).attr("y1", 1474).attr("y2", 1540).attr("stroke", "#ff0000").attr("stroke-width", 2);
const leg2 = ["Electron", "Beam", "Current", "+", "Positron", "Beam", "Current"];
leg2.forEach((s, i) => {
  const t = ov.append("text").attr("y", 1305 + 73.8 * i).attr("font-size", 66.7).text(s);
  if (s === "+") t.attr("x", 4574).attr("text-anchor", "middle"); else t.attr("x", 4465);
});
wrap.appendChild(ov.node());

// fit the 4790x2717 drawing to fill the viewport exactly
function fit() {
  const sx = window.innerWidth / 4790, sy = window.innerHeight / 2717;
  const same = Math.abs(sx - 1) < 0.001 && Math.abs(sy - 1) < 0.001;
  wrap.style.transform = same ? "none" : `scale(${sx},${sy})`;
  outer.style.width = (same ? 4790 : window.innerWidth) + "px";
  outer.style.height = (same ? 2717 : window.innerHeight) + "px";
}
fit();
window.addEventListener("resize", fit);
</script></body></html>
